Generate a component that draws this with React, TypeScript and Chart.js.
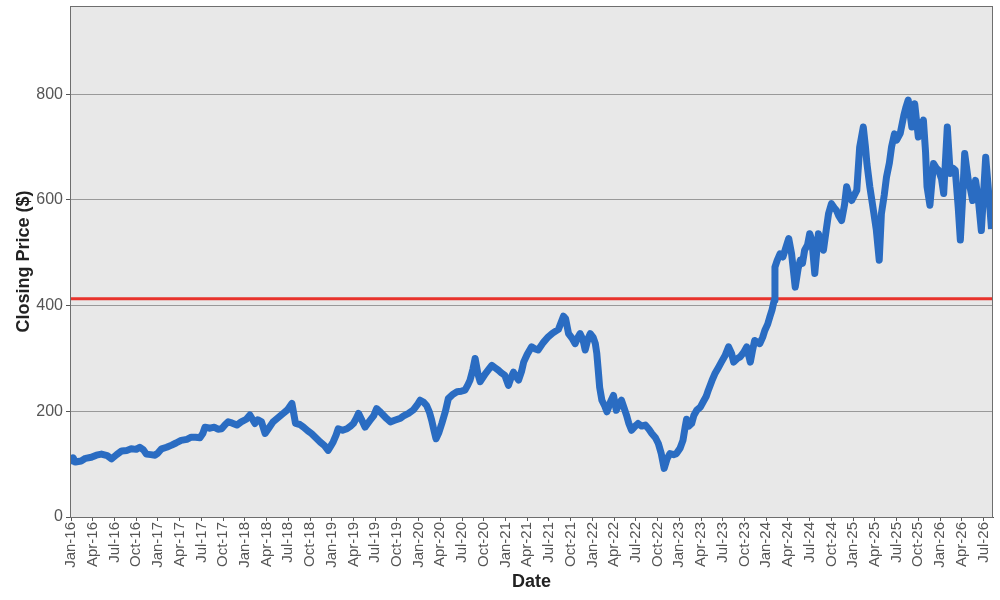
import React, { useEffect, useRef } from "react";
import { Chart, registerables } from "chart.js";

Chart.register(...registerables);

// Months since Jan-2016 (fractional) for each reading
const monthPos: number[] = [
  0.0, 0.3, 0.6, 1.4, 2.0, 2.8, 3.5, 4.2, 5.0, 5.6, 6.3, 7.0, 7.7, 8.3, 9.0, 9.5, 10.0, 10.4, 11.0, 11.6,
  12.0, 12.5, 13.2, 13.9, 14.5, 15.2, 16.0, 16.6, 17.2, 17.8, 18.2, 18.5, 19.2, 19.8, 20.3, 20.8, 21.3, 21.7, 22.2,
  22.9, 23.5, 24.2, 24.7, 25.4, 25.8, 26.3, 26.8, 27.3, 27.9, 28.6, 29.3, 29.9, 30.5, 31.0, 31.6, 32.1, 32.7,
  33.2, 33.8, 34.4, 35.0, 35.5, 35.9, 36.2, 36.6, 36.9, 37.5, 38.1, 38.6, 39.0, 39.4, 39.7, 40.1, 40.6, 41.3,
  41.8, 42.2, 42.6, 43.1, 43.6, 44.1,
  44.7, 45.5, 46.0, 46.6, 47.3, 47.8, 48.2, 48.7, 49.1, 49.5, 49.8, 50.1, 50.4, 50.8, 51.2, 51.7, 52.1, 52.7,
  53.3, 53.9, 54.4, 54.8, 55.1, 55.5, 55.8, 56.2, 56.5, 57.2, 57.7, 58.1, 58.6, 59.0, 59.5, 59.9, 60.4, 60.8,
  61.1, 61.5, 61.8, 62.2, 62.5, 63.0, 63.6, 64.1, 64.5, 65.2, 65.9, 66.5, 67.3,
  68.0, 68.3, 68.7, 69.2, 69.6, 70.0, 70.3, 70.7, 71.0, 71.4, 71.7, 72.1, 72.4, 72.6, 72.8, 73.0, 73.3, 73.7,
  74.0, 74.5, 74.9, 75.3, 75.7, 76.0, 76.4, 76.7, 77.0, 77.4, 77.9, 78.3, 78.8, 79.3, 79.8, 80.2, 80.7, 81.1,
  81.5, 81.9, 82.3, 82.7, 83.2, 83.6, 84.1, 84.5, 84.8, 85.0, 85.3, 85.7, 86.0,
  86.4, 86.9, 87.3, 87.7, 88.0, 88.5, 88.9, 89.4, 89.8, 90.3, 90.8, 91.2, 91.5, 92.0, 92.4, 92.9, 93.3, 93.8,
  94.1, 94.4, 95.1, 95.5, 95.8, 96.2, 96.5, 96.8, 97.1, 97.2, 97.5, 97.9, 98.3, 98.6, 99.1, 99.5, 100.0, 100.4,
  100.7, 101.0, 101.3, 101.7, 102.0, 102.3, 102.7, 103.2, 103.6, 103.9, 104.3, 104.6, 105.0, 105.4, 105.7,
  106.0, 106.4, 106.8, 107.1, 107.5, 107.8, 108.2, 108.5, 108.9, 109.4, 109.7, 109.9, 110.3, 110.8, 111.2,
  111.6, 111.9, 112.3, 112.6, 113.0, 113.3, 113.7, 114.0, 114.5, 115.0, 115.3, 115.6, 116.1, 116.5, 117.0,
  117.4, 117.7, 118.0, 118.2, 118.6, 119.1, 119.5, 119.8, 120.2, 120.5, 121.0, 121.4, 121.8, 122.1, 122.5,
  122.8, 123.1, 123.4, 123.9, 124.2, 124.5, 124.9, 125.3, 125.7, 126.0, 126.3, 126.8, 127.1,
];

// Closing prices ($)
const prices: number[] = [
  100, 112, 104, 106, 111, 113, 117, 119, 116, 110, 118, 125, 126, 129, 128, 132, 127, 119, 118, 117,
  121, 129, 132, 136, 140, 145, 147, 151, 151, 150, 158, 170, 168, 170, 166, 167, 175, 180, 178,
  174, 180, 185, 193, 177, 184, 180, 158, 168, 180, 188, 196, 203, 215, 177, 175, 170, 163,
  158, 150, 142, 135, 126, 135, 142, 155, 167, 164, 167, 172, 177, 187, 196, 185, 170, 183,
  192, 205, 200, 193, 186, 180,
  183, 187, 192, 196, 203, 212, 221, 217, 211, 198, 183, 165, 148, 160, 177, 200, 224, 232,
  237, 238, 240, 250, 259, 280, 300, 270, 256, 271, 280, 287, 282, 278, 272, 268, 249, 265,
  274, 265, 259, 275, 293, 308, 322, 318, 316, 330, 341, 348, 355,
  380, 375, 347, 338, 328, 340, 347, 335, 316, 338, 347, 340, 328, 310, 278, 245, 221, 210,
  199, 218, 230, 202, 215, 221, 205, 193, 178, 164, 172, 177, 172, 174, 166, 158, 150, 139,
  120, 92, 110, 120, 118, 120, 130, 145, 170, 185, 172, 177, 192,
  202, 208, 218, 228, 240, 258, 271, 283, 293, 305, 322, 310, 293, 300, 303, 312, 322, 293,
  315, 334, 328, 340, 353, 365, 379, 392, 410, 473, 485, 498, 492, 505, 527, 498, 435, 470,
  486, 480, 505, 515, 536, 524, 461, 536, 515, 505, 545, 574, 593, 585, 580,
  570, 561, 590, 625, 605, 599, 610, 618, 700, 738, 700, 669, 625, 580, 543,
  486, 574, 610, 643, 670, 700, 725, 713, 726, 760, 776, 789, 738, 782, 719,
  740, 751, 690, 625, 590, 669, 660, 656, 640, 612, 738, 650, 660, 656, 587,
  524, 600, 688, 637, 620, 599, 637, 599, 542, 610, 681, 599, 545,
];

const referenceLevel = 413;

const yTicks: number[] = [0, 200, 400, 600, 800];

const tickLabels: string[] = [
  "Jan-16", "Apr-16", "Jul-16", "Oct-16",
  "Jan-17", "Apr-17", "Jul-17", "Oct-17",
  "Jan-18", "Apr-18", "Jul-18", "Oct-18",
  "Jan-19", "Apr-19", "Jul-19", "Oct-19",
  "Jan-20", "Apr-20", "Jul-20", "Oct-20",
  "Jan-21", "Apr-21", "Jul-21", "Oct-21",
  "Jan-22", "Apr-22", "Jul-22", "Oct-22",
  "Jan-23", "Apr-23", "Jul-23", "Oct-23",
  "Jan-24", "Apr-24", "Jul-24", "Oct-24",
  "Jan-25", "Apr-25", "Jul-25", "Oct-25",
  "Jan-26", "Apr-26", "Jul-26",
];

const X_MIN = -0.14;
const X_MAX = 127.31;
const Y_MAX = 967;

const plotBgPlugin = {
  id: "plotBg",
  beforeDraw(chart: any) {
    const { ctx, chartArea } = chart;
    if (!chartArea) return;
    ctx.save();
    ctx.fillStyle = "#E8E8E8";
    ctx.fillRect(chartArea.left, chartArea.top, chartArea.right - chartArea.left, chartArea.bottom - chartArea.top);
    ctx.restore();
  },
  afterDraw(chart: any) {
    const { ctx, chartArea } = chart;
    ctx.save();
    ctx.strokeStyle = "#6E6E6E";
    ctx.lineWidth = 1;
    ctx.strokeRect(chartArea.left + 0.5, chartArea.top + 0.5, chartArea.right - chartArea.left - 1, chartArea.bottom - chartArea.top);
    ctx.restore();
  },
};

export default function App() {
  const canvasRef = useRef<HTMLCanvasElement | null>(null);

  useEffect(() => {
    if (!canvasRef.current) return;
    const lineData = monthPos.map((m, i) => ({ x: m, y: prices[i] }));
    const refData = [
      { x: X_MIN, y: referenceLevel },
      { x: X_MAX, y: referenceLevel },
    ];
    const chart = new Chart(canvasRef.current, {
      type: "line",
      data: {
        datasets: [
          {
            data: lineData,
            borderColor: "#2A6CC2",
            borderWidth: 7,
            borderJoinStyle: "round",
            borderCapStyle: "butt",
            pointRadius: 0,
            tension: 0,
            order: 0,
          },
          {
            data: refData,
            borderColor: "#E8332C",
            borderWidth: 3,
            pointRadius: 0,
            tension: 0,
            order: 1,
          },
        ],
      },
      options: {
        animation: false,
        responsive: false,
        devicePixelRatio: 1,
        layout: { padding: { left: 0, right: 7, top: 6, bottom: 0 } },
        plugins: {
          legend: { display: false },
          tooltip: { enabled: false },
        },
        scales: {
          x: {
            type: "linear",
            min: X_MIN,
            max: X_MAX,
            afterBuildTicks(scale: any) {
              scale.ticks = tickLabels.map((_, i) => ({ value: i * 3 }));
            },
            afterFit(scale: any) {
              scale.height = 83;
              scale.paddingLeft = 0;
              scale.paddingRight = 0;
            },
            ticks: {
              autoSkip: false,
              minRotation: 90,
              maxRotation: 90,
              padding: 1,
              color: "#555555",
              font: { family: "'Liberation Sans', Arial, sans-serif", size: 15 },
              callback: (value: any) => tickLabels[Math.round(Number(value) / 3)] ?? "",
            },
            grid: {
              drawOnChartArea: false,
              drawTicks: true,
              tickLength: 4,
              tickColor: "#555555",
            },
            border: { display: true, color: "#555555" },
            title: {
              display: true,
              text: "Date",
              color: "#222222",
              font: { family: "'Liberation Sans', Arial, sans-serif", size: 18, weight: "bold" },
              padding: { top: 0, bottom: 7 },
            },
          },
          y: {
            type: "linear",
            min: 0,
            max: Y_MAX,
            afterBuildTicks(scale: any) {
              scale.ticks = yTicks.map((v) => ({ value: v }));
            },
            afterFit(scale: any) {
              scale.width = 70;
              scale.paddingTop = 0;
              scale.paddingBottom = 0;
            },
            ticks: {
              padding: 3,
              color: "#555555",
              font: { family: "'Liberation Sans', Arial, sans-serif", size: 16 },
            },
            grid: {
              drawOnChartArea: true,
              color: "#999999",
              lineWidth: 1,
              drawTicks: true,
              tickLength: 4,
              tickColor: "#555555",
            },
            border: { display: true, color: "#555555" },
            title: {
              display: true,
              text: "Closing Price ($)",
              color: "#222222",
              font: { family: "'Liberation Sans', Arial, sans-serif", size: 18, weight: "bold" },
              padding: { top: 13, bottom: 0 },
            },
          },
        },
      },
      plugins: [plotBgPlugin],
    });
    return () => chart.destroy();
  }, []);

  return (
    <div style={{ position: "absolute", left: 0, top: 0, width: 1000, height: 600, background: "#ffffff" }}>
      <canvas ref={canvasRef} width={1000} height={600} />
    </div>
  );
}
